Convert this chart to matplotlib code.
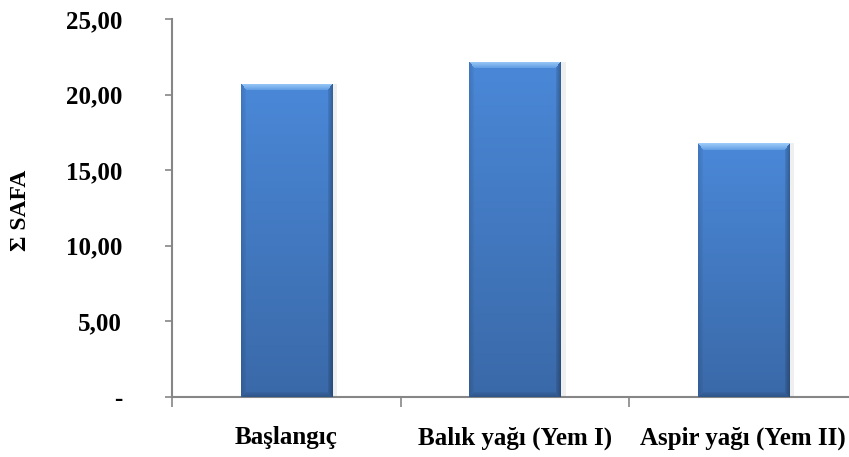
import matplotlib
matplotlib.use("Agg")
import matplotlib.pyplot as plt
import numpy as np
from matplotlib.colors import to_rgb

categories = ["Başlangıç", "Balık yağı (Yem I)", "Aspir yağı (Yem II)"]
safa = [20.72, 22.16, 16.78]
y_ticks = [0, 5, 10, 15, 20, 25]
y_tick_labels = ["-", "5,00", "10,00", "15,00", "20,00", "25,00"]

plt.rcParams["font.family"] = ["Liberation Serif", "DejaVu Serif"]
plt.rcParams["font.weight"] = "bold"

W, H = 849, 457
fig = plt.figure(figsize=(W / 100, H / 100), dpi=100)
ax = fig.add_axes([172 / W, (H - 397) / H, 685.5 / W, (397 - 19) / H])
ax.set_xlim(-0.5, 2.5)
ax.set_ylim(0, 25)

x = np.arange(len(categories))
bw = 0.40
bars = ax.bar(x, safa, width=bw, color="#4682d2", edgecolor="none", zorder=2)


def bevel_image(w_px, h_px, bt=7, bs=5):
    """RGB array for a bevelled bar face, rows top->bottom."""
    rows, cols = np.mgrid[0:h_px, 0:w_px].astype(float)
    # distances scaled so that each bevel band maps to [0, 1)
    d_t = rows / bt
    d_b = (h_px - 1 - rows) / bs
    d_l = cols / bs
    d_r = (w_px - 1 - cols) / bs
    t = rows / max(h_px - 1, 1)
    top_c, bot_c = np.array(to_rgb("#4a88d8")), np.array(to_rgb("#3a69a8"))
    img = top_c[None, None, :] * (1 - t[..., None]) + bot_c[None, None, :] * t[..., None]
    faces = np.stack([d_t, d_l, d_r, d_b])
    which = np.argmin(faces, axis=0)
    dmin = np.min(faces, axis=0)
    inb = dmin < 1
    s = dmin[..., None]
    light_edge, light_in = np.array(to_rgb("#9ccaf8")), np.array(to_rgb("#5c9ae2"))
    top_face = light_edge * (1 - s) + light_in * s
    left_face = img * (0.88 + 0.10 * s)
    right_face = img * (0.72 + 0.22 * s)
    bottom_face = img * (0.82 + 0.15 * s)
    for k, face in enumerate([top_face, left_face, right_face, bottom_face]):
        m = inb & (which == k)
        img[m] = face[m]
    return np.clip(img, 0, 1)


px_per_unit = 378 / 25
px_per_cat = 685.5 / 3
for rect in bars:
    x0 = rect.get_x()
    w = rect.get_width()
    h = rect.get_height()
    img = bevel_image(int(round(w * px_per_cat)), int(round(h * px_per_unit)))
    im = ax.imshow(img, extent=(x0, x0 + w, 0, h), aspect="auto",
                   interpolation="nearest", zorder=3)
    im.set_clip_path(rect)
    # soft shadow to the right of the bar
    ax.bar(x0 + w + 0.012, h, width=0.024, align="center",
           color="#efefef", edgecolor="none", zorder=1)

ax.set_xlim(-0.5, 2.5)
ax.set_ylim(0, 25)
ax.set_yticks(y_ticks)
ax.set_yticklabels(y_tick_labels, fontsize=18, fontweight="bold")

ax.set_xticks([-0.5, 0.5, 1.5, 2.5])
ax.set_xticklabels([])
ax.set_xticks(x, minor=True)
ax.set_xticklabels(categories, minor=True, fontsize=18, fontweight="bold")
ax.tick_params(axis="x", which="minor", length=0, pad=21)
ax.tick_params(axis="x", which="major", length=7, width=1.2, color="#868686", direction="out")
ax.tick_params(axis="y", length=5, width=1.2, color="#868686", direction="out", pad=31)

for s in ["top", "right"]:
    ax.spines[s].set_visible(False)
for s in ["left", "bottom"]:
    ax.spines[s].set_color("#868686")
    ax.spines[s].set_linewidth(1.5)

fig.text(20 / W, 1 - 210 / H, "Σ SAFA", rotation=90, ha="center", va="center",
         fontsize=17, fontweight="bold")

fig.savefig("out.png", dpi=100)
